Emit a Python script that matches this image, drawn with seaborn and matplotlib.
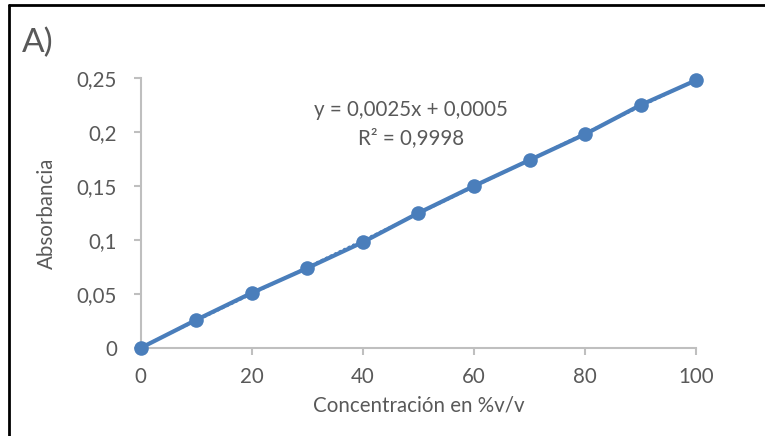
import numpy as np
import matplotlib
matplotlib.use("Agg")
import matplotlib.pyplot as plt
import seaborn as sns
from matplotlib.ticker import FuncFormatter

# data
concentracion = [0, 10, 20, 30, 40, 50, 60, 70, 80, 90, 100]
absorbancia = [0, 0.026, 0.051, 0.074, 0.098, 0.125, 0.150, 0.174, 0.198, 0.225, 0.248]
x_ticks = [0, 20, 40, 60, 80, 100]
y_ticks = [0, 0.05, 0.1, 0.15, 0.2, 0.25]

sns.set_style("white")
plt.rcParams["font.family"] = ["Lato", "DejaVu Sans"]

color = "#4a7ebb"
txt = "#595959"
fs = 14.8

fig = plt.figure(figsize=(7.65, 4.36), dpi=100)
ax = fig.add_axes([0.184, 0.202, 0.726, 0.619])

# linear trendline (dotted)
m, b = np.polyfit(concentracion, absorbancia, 1)
xs = np.array([0, 100])
ax.plot(xs, m * xs + b, linestyle=(0, (1, 1)), color=color, lw=1.8)

sns.lineplot(x=concentracion, y=absorbancia, ax=ax, color=color, lw=3,
             marker="o", markersize=10.5, markeredgewidth=0, clip_on=False, zorder=5)

ax.set_xlim(0, 100)
ax.set_ylim(0, 0.25)
ax.set_xticks(x_ticks)
ax.set_yticks(y_ticks)
ax.yaxis.set_major_formatter(FuncFormatter(lambda v, p: ("%g" % round(v, 2)).replace(".", ",")))

for s in ["top", "right"]:
    ax.spines[s].set_visible(False)
for s in ["left", "bottom"]:
    ax.spines[s].set_color("#bfbfbf")
    ax.spines[s].set_linewidth(1.5)
ax.tick_params(axis="both", colors="#bfbfbf", labelcolor=txt, labelsize=fs,
               length=5, width=1.5, direction="out", bottom=True, left=True)
ax.tick_params(axis="x", pad=9)
ax.tick_params(axis="y", pad=12)

ax.set_xlabel("Concentración en %v/v", fontsize=fs, color=txt, labelpad=6)
ax.set_ylabel("Absorbancia", fontsize=fs, color=txt, labelpad=14)

ax.text(411 / 765, 1 - 110 / 436, "y = 0,0025x + 0,0005", transform=fig.transFigure,
        ha="center", va="center", fontsize=fs, color=txt)
ax.text(411 / 765, 1 - 138 / 436, "R² = 0,9998", transform=fig.transFigure,
        ha="center", va="center", fontsize=fs, color=txt)

fig.text(22 / 765, 1 - 43 / 436, "A)", fontsize=24, color=txt, va="center", ha="left")

# frame around the figure (left and top edges visible)
fig.add_artist(plt.Line2D([9 / 765, 9 / 765], [0, 1 - 5 / 436], transform=fig.transFigure,
                          color="black", lw=2))
fig.add_artist(plt.Line2D([9 / 765, 1], [1 - 5 / 436, 1 - 5 / 436], transform=fig.transFigure,
                          color="black", lw=2))

fig.savefig("out.png", dpi=100)
